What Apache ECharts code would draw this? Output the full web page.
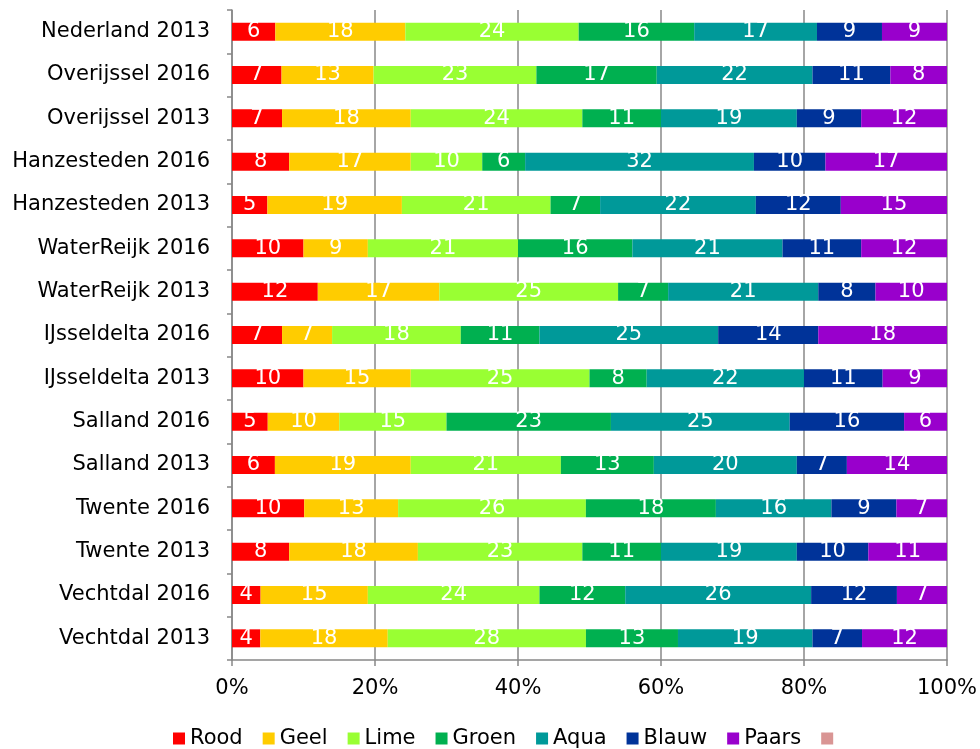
<!DOCTYPE html>
<html lang="nl">
<head>
    <meta charset="UTF-8">
    <title>Kleurverdeling</title>
    <style>
        html,body{margin:0;padding:0;background:#fff;}
        #chart{width:980px;height:749px;}
    </style>
</head>
<body>
    <div id="chart"></div>
    <script src="https://cdn.jsdelivr.net/npm/echarts@6/dist/echarts.min.js"></script>
    <script>
        // categories, top to bottom
        let categories=['Nederland 2013','Overijssel 2016','Overijssel 2013','Hanzesteden 2016','Hanzesteden 2013',
            'WaterReijk 2016','WaterReijk 2013','IJsseldelta 2016','IJsseldelta 2013','Salland 2016',
            'Salland 2013','Twente 2016','Twente 2013','Vechtdal 2016','Vechtdal 2013'];
        let rood =[6,7,7,8,5,10,12,7,10,5,6,10,8,4,4];
        let geel =[18,13,18,17,19,9,17,7,15,10,19,13,18,15,18];
        let lime =[24,23,24,10,21,21,25,18,25,15,21,26,23,24,28];
        let groen=[16,17,11,6,7,16,7,11,8,23,13,18,11,12,13];
        let aqua =[17,22,19,32,22,21,21,25,22,25,20,16,19,26,19];
        let blauw=[9,11,9,10,12,11,8,14,11,16,7,9,10,12,7];
        let paars=[9,8,12,17,15,12,10,18,9,6,14,7,11,7,12];
        let tickLabels=['0%','20%','40%','60%','80%','100%'];

        let names=['Rood','Geel','Lime','Groen','Aqua','Blauw','Paars'];
        let colors=['#ff0000','#ffcc00','#99ff33','#00b050','#009999','#003399','#9900cc'];
        let values=[rood,geel,lime,groen,aqua,blauw,paars];

        // row totals, bars are shown as share of 100%
        let totals=categories.map((c,i)=>values.reduce((s,arr)=>s+arr[i],0));

        let font='DejaVu Sans';
        let series=values.map((arr,k)=>({
            name:names[k],
            type:'bar',
            stack:'all',
            barWidth:18,
            itemStyle:{color:colors[k]},
            label:{
                show:true,
                position:'inside',
                color:'#fff',
                fontFamily:font,
                fontSize:21,
                formatter:(p)=>arr[p.dataIndex],
            },
            data:arr.map((v,i)=>v/totals[i]*100),
        }));
        // legend has an extra empty entry
        series.push({
            name:' ',
            type:'bar',
            stack:'all',
            barWidth:18,
            itemStyle:{color:'#d99594'},
            label:{show:false},
            data:categories.map(()=>0),
        });

        let chart=echarts.init(document.getElementById('chart'));
        chart.setOption({
            animation:false,
            textStyle:{fontFamily:font},
            grid:{left:232,right:33,top:10,bottom:89,containLabel:false},
            legend:{
                top:728,
                left:173,
                padding:0,
                icon:'rect',
                itemWidth:12,
                itemHeight:12,
                itemGap:20,
                textStyle:{fontFamily:font,fontSize:21,color:'#000'},
                data:names.concat([' ']),
            },
            xAxis:{
                type:'value',
                min:0,
                max:100,
                interval:20,
                axisLine:{show:true,lineStyle:{color:'#888',width:1.5}},
                axisTick:{show:true,length:6,lineStyle:{color:'#888',width:1.5}},
                splitLine:{show:true,lineStyle:{color:'#888',width:1.5}},
                axisLabel:{
                    margin:18,
                    color:'#000',
                    fontFamily:font,
                    fontSize:21,
                    formatter:(v)=>tickLabels[Math.round(v/20)],
                },
            },
            yAxis:{
                type:'category',
                inverse:true,
                data:categories,
                axisLine:{show:true,lineStyle:{color:'#888',width:1.5}},
                axisTick:{show:true,length:5,lineStyle:{color:'#888',width:1.5}},
                axisLabel:{margin:22,color:'#000',fontFamily:font,fontSize:21},
            },
            series,
        });
    </script>
</body>
</html>
